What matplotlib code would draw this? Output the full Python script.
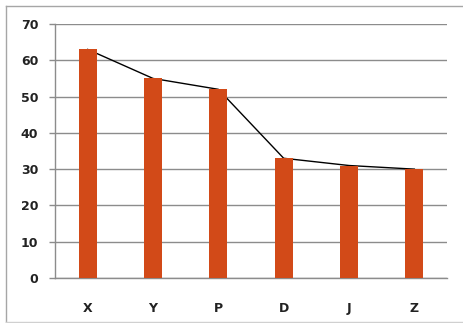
import matplotlib
matplotlib.use("Agg")
import matplotlib.pyplot as plt
from matplotlib.lines import Line2D

categories = ["X", "Y", "P", "D", "J", "Z"]
values = [63, 55, 52, 33, 31, 30]
yticks = [0, 10, 20, 30, 40, 50, 60, 70]

W, H = 464, 323
fig = plt.figure(figsize=(W / 100, H / 100), dpi=100)
fig.patch.set_facecolor("white")

ax = fig.add_axes([55 / W, (H - 278) / H, (447 - 55) / W, (278 - 24) / H])
x = list(range(len(categories)))
ax.plot(x, values, color="black", lw=1.0, zorder=2)
ax.bar(x, values, width=0.28, color="#D24A18", zorder=3)

ax.set_xlim(-0.5, len(categories) - 0.5)
ax.set_ylim(0, 70)
ax.set_yticks(yticks)
ax.set_yticklabels([str(v) for v in yticks])
ax.set_xticks(x)
ax.set_xticklabels(categories)

grid_c = "#8c8c8c"
ax.grid(axis="y", color=grid_c, lw=1.0, zorder=1)
ax.set_axisbelow(True)
for s in ["top", "right"]:
    ax.spines[s].set_visible(False)
ax.spines["left"].set_color(grid_c)
ax.spines["bottom"].set_color(grid_c)
ax.spines["left"].set_linewidth(1.0)
ax.spines["bottom"].set_linewidth(1.0)
ax.tick_params(axis="y", length=4, width=1.0, color=grid_c, pad=8,
               labelsize=9, labelcolor="#222222")
ax.tick_params(axis="x", length=0, pad=17, labelsize=9, labelcolor="#222222")
for lab in ax.get_xticklabels() + ax.get_yticklabels():
    lab.set_fontweight("bold")

# outer chart-area border (open on the right, as in the reference crop)
x0, y_top, y_bot = 6.5 / W, 1 - 5.5 / H, 1.5 / H
bc = "#a6a6a6"
fig.add_artist(Line2D([x0, 1.0], [y_top, y_top], transform=fig.transFigure, color=bc, lw=1.0))
fig.add_artist(Line2D([x0, x0], [y_bot, y_top], transform=fig.transFigure, color=bc, lw=1.0))
fig.add_artist(Line2D([x0, 1.0], [y_bot, y_bot], transform=fig.transFigure, color="#d0d0d0", lw=1.0))

fig.savefig("out.png", dpi=100)
